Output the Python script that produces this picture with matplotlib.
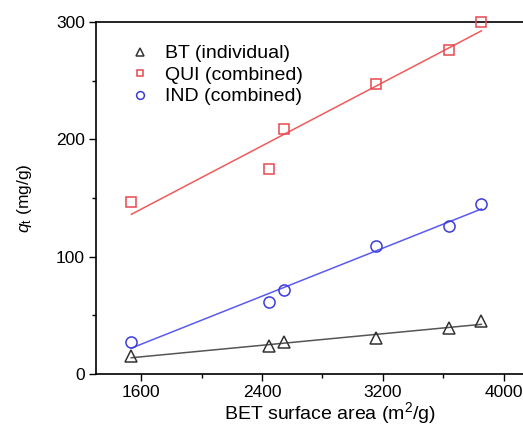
import numpy as np
import matplotlib
matplotlib.use("Agg")
import matplotlib.pyplot as plt
from matplotlib.ticker import MultipleLocator

plt.rcParams['font.family'] = ['Liberation Sans', 'DejaVu Sans']
plt.rcParams['mathtext.fontset'] = 'custom'
plt.rcParams['mathtext.rm'] = 'Liberation Sans'
plt.rcParams['mathtext.it'] = 'Liberation Sans:italic'

bet_area = [1534, 2448, 2548, 3158, 3635, 3853]
bt_individual = [15, 24, 27, 31, 39, 45]
qui_combined = [147, 175, 209, 247, 276, 300]
ind_combined = [27, 61, 72, 109, 126, 145]

fig = plt.figure(figsize=(5.23, 4.25), dpi=100)
ax = fig.add_axes([96/523, 1-374/425, 468/523, 352/425])

series = [
    ("BT (individual)", bt_individual, "^", "#333333", "#555555", 8.5),
    ("QUI (combined)", qui_combined, "s", "#e8484f", "#f05a5a", 7),
    ("IND (combined)", ind_combined, "o", "#3b3bdc", "#5a5af0", 8),
]
x = np.array(bet_area, dtype=float)
for label, ys, mk, mc, lc, ms in series:
    ax.plot(x, ys, linestyle='none', marker=mk, markersize=ms,
            markerfacecolor='none', markeredgecolor=mc, markeredgewidth=1.1,
            label=label, clip_on=False, zorder=3)
    k, b = np.polyfit(x, ys, 1)
    ax.plot([x.min(), x.max()], [k*x.min()+b, k*x.max()+b], color=lc, lw=1.1, zorder=2)

ax.set_xlim(1300, 4400)
ax.set_ylim(0, 300)
ax.xaxis.set_minor_locator(MultipleLocator(400))
ax.yaxis.set_major_locator(MultipleLocator(100))
ax.yaxis.set_minor_locator(MultipleLocator(50))
ax.set_xticks([1600, 2400, 3200, 4000])
ax.tick_params(which='major', direction='out', length=5, width=1, labelsize=12.5, pad=3)
ax.tick_params(which='minor', direction='out', length=3, width=1)
for s in ax.spines.values():
    s.set_linewidth(1.2)

ax.set_xlabel("BET surface area (m$^2$/g)", fontsize=14, labelpad=0)
ax.set_ylabel("$q$$_{\\mathrm{t}}$ (mg/g)", fontsize=12.5, labelpad=16)

ax.legend(loc='upper left', bbox_to_anchor=(0.032, 0.985), frameon=False,
          fontsize=14, markerscale=0.7, handletextpad=0.7, labelspacing=0.2,
          handlelength=1.2)

fig.savefig("out.png", dpi=100)
